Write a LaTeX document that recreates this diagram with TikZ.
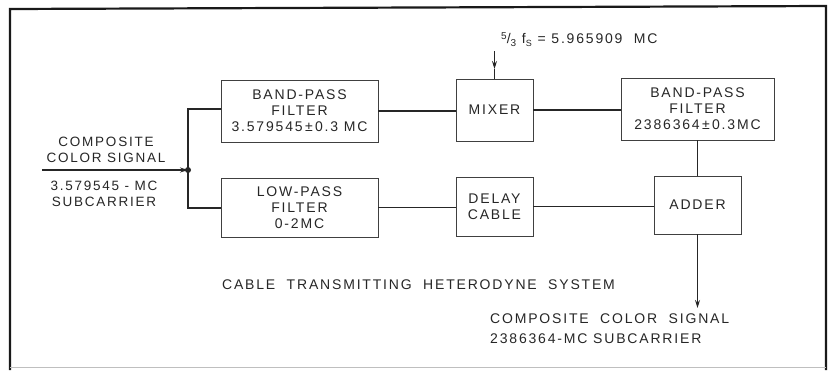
\documentclass[tikz,border=0pt]{standalone}
\usepackage{fontspec}
\setmainfont{Liberation Sans}[LetterSpace=13]
\usetikzlibrary{arrows.meta}
\begin{document}
\begin{tikzpicture}[x=1pt,y=-1pt,
  blk/.style={draw=black!75,line width=0.8pt,inner sep=0pt,align=center,
    font=\fontsize{14}{16}\selectfont,text=black!85},
  wire/.style={draw=black!85,line width=1.1pt},
  lbl/.style={inner sep=0pt,align=center,font=\fontsize{13.5}{16.5}\selectfont,text=black!85},
  arr/.style={wire,-{Stealth[length=8pt,width=5pt]}}]
\useasboundingbox (0,0) rectangle (829,370);
% frame
\draw[line width=2.2pt,black!90] (10,370) -- (10,9) -- (826,6) -- (826,370);
\draw[line width=0.6pt,black!25] (10,367) -- (826,367);
% blocks
\node[blk,minimum width=157pt,minimum height=62pt] (bpf1) at (299.5,111)
  {BAND-PASS\\FILTER\\3.579545\,±\,0.3 MC};
\node[blk,minimum width=77pt,minimum height=62pt] (mix) at (494.5,110) {MIXER};
\node[blk,minimum width=153pt,minimum height=62pt] (bpf2) at (697.5,109)
  {BAND-PASS\\FILTER\\2386364\,±\,0.3MC};
\node[blk,minimum width=157pt,minimum height=59pt] (lpf) at (299.5,207.5)
  {LOW-PASS\\FILTER\\0-2MC};
\node[blk,minimum width=77pt,minimum height=59pt] (dly) at (494.5,206.5) {DELAY\\CABLE};
\node[blk,minimum width=87pt,minimum height=58pt] (add) at (697.5,205) {ADDER};
% input
\node[lbl,anchor=center] (inA) at (106,150) {COMPOSITE\\COLOR SIGNAL};
\node[lbl,anchor=center] (inB) at (104,194) {3.579545 - MC\\SUBCARRIER};
\coordinate (src) at (42,170);
\coordinate (jn) at (188,170);
\fill[black!85] (jn) circle (3pt);
\draw[arr] (src) -- (jn);
\coordinate (jt) at (188,109);
\coordinate (jb) at (188,208);
\draw[wire] (jn) -- (jt) -- (jt -| bpf1.west);
\draw[wire] (jn) -- (jb) -- (jb -| lpf.west);
% chain
\draw[wire] (bpf1.east) -- (mix.west |- bpf1.east);
\draw[wire] (mix.east) -- (bpf2.west |- mix.east);
\draw[wire] (lpf.east) -- (dly.west |- lpf.east);
\draw[wire] (dly.east) -- (add.west |- dly.east);
\draw[wire] (bpf2.south) -- (add.north);
% LO input
\node[lbl,anchor=west,font=\fontsize{14}{16}\selectfont] (lo) at (501,40)
  {\raisebox{4pt}{\fontsize{10}{10}\selectfont 5}/\raisebox{-3pt}{\fontsize{10}{10}\selectfont 3}\ f\raisebox{-3pt}{\fontsize{9}{9}\selectfont S} = 5.965909 \ MC};
\coordinate (lotop) at (mix.north |- 0,51);
\coordinate (lomid) at (mix.north |- 0,69);
\draw[arr] (lotop) -- (lomid);
\draw[wire] (lomid) -- (mix.north);
% output
\coordinate (outp) at (697.5,308);
\draw[arr] (add.south) -- (outp);
\node[lbl,anchor=north west,align=left,font=\fontsize{14}{20}\selectfont] (outl) at (490,314)
  {COMPOSITE\ \ COLOR\ \ SIGNAL\\2386364-MC SUBCARRIER};
% caption
\node[lbl,anchor=center,font=\fontsize{14}{16}\selectfont] (cap) at (418.5,285) {CABLE\ \ TRANSMITTING\ \ HETERODYNE\ \ SYSTEM};
\end{tikzpicture}
\end{document}
